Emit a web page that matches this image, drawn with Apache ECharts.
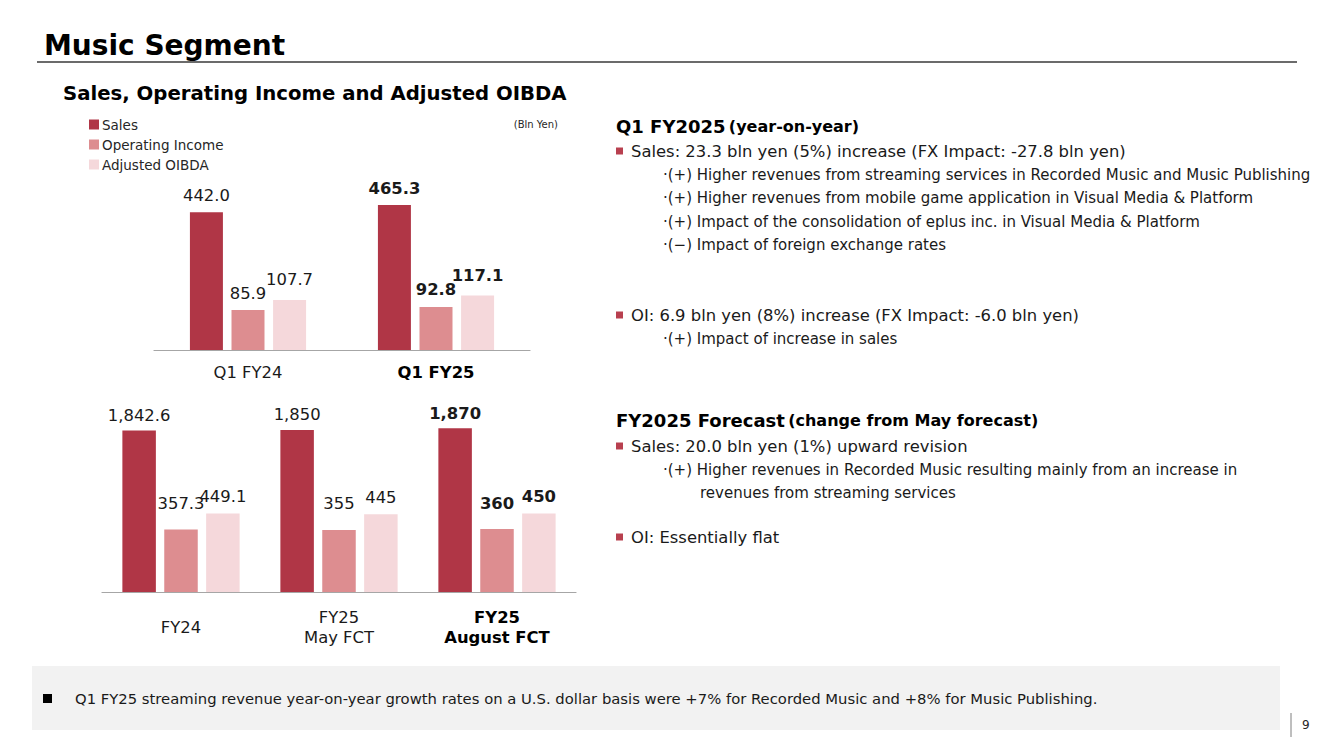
<!DOCTYPE html>
<html>
<head>
<meta charset="utf-8">
<script src="https://cdn.jsdelivr.net/npm/echarts@6/dist/echarts.min.js"></script>
<style>
  html, body { margin: 0; padding: 0; background: #ffffff; }
  #chart { width: 1334px; height: 749px; }
</style>
</head>
<body>
<div id="chart"></div>
<script>
// ---------- data ----------
const seriesNames = ['Sales', 'Operating Income', 'Adjusted OIBDA'];

const quarterCategories = ['Q1 FY24', 'Q1 FY25'];
const quarterSales = [442.0, 465.3];
const quarterOI = [85.9, 92.8];
const quarterOIBDA = [107.7, 117.1];
const quarterBoldIndex = 1;

const yearCategories = ['FY24', 'FY25\nMay FCT', 'FY25\nAugust FCT'];
const yearSales = [1842.6, 1850, 1870];
const yearOI = [357.3, 355, 360];
const yearOIBDA = [449.1, 445, 450];
const yearDecimals = [1, 0, 0];
const yearBoldIndex = 2;

const unitLabel = '(Bln Yen)';

// ---------- styles ----------
const FONT = "'DejaVu Sans', Verdana, sans-serif";
const colors = ['#b03646', '#dd8d90', '#f5d8db'];
const bulletRed = '#b8404f';

function fmt(v, d) {
  return Number(v).toLocaleString('en-US', { minimumFractionDigits: d, maximumFractionDigits: d });
}

function items(values, boldIdx) {
  return values.map((v, i) => ({
    value: v,
    label: { fontWeight: i === boldIdx ? 'bold' : 'normal' }
  }));
}

function catLabelFormatter(boldIdx) {
  return function (v, i) {
    const tag = i === boldIdx ? 'b' : 'n';
    return v.split('\n').map(s => '{' + tag + '|' + s + '}').join('\n');
  };
}

const catRich = {
  n: { fontFamily: FONT, fontSize: 16.4, color: '#1a1a1a', lineHeight: 20 },
  b: { fontFamily: FONT, fontSize: 16.4, color: '#000000', fontWeight: 'bold', lineHeight: 20 }
};

const labelBase = {
  show: true,
  position: 'top',
  distance: 9,
  fontFamily: FONT,
  fontSize: 16.4,
  color: '#1a1a1a'
};

// ---------- right side text ----------
const bodyFont = '16.4px ' + FONT;
const subFont = '15px ' + FONT;
const textLines = [
  { y: 126, x: 616, rich: true, text: '{h|Q1 FY2025} {s|(year-on-year)}' },
  { y: 151, x: 631, bullet: true, text: 'Sales: 23.3 bln yen (5%) increase (FX Impact: -27.8 bln yen)' },
  { y: 175, x: 663, sub: true, text: '·(+) Higher revenues from streaming services in Recorded Music and Music Publishing' },
  { y: 198, x: 663, sub: true, text: '·(+) Higher revenues from mobile game application in Visual Media & Platform' },
  { y: 222, x: 663, sub: true, text: '·(+) Impact of the consolidation of eplus inc. in Visual Media & Platform' },
  { y: 245, x: 663, sub: true, text: '·(\u2212) Impact of foreign exchange rates' },
  { y: 315, x: 631, bullet: true, text: 'OI: 6.9 bln yen (8%) increase (FX Impact: -6.0 bln yen)' },
  { y: 339, x: 663, sub: true, text: '·(+) Impact of increase in sales' },
  { y: 420, x: 616, rich: true, text: '{h|FY2025 Forecast} {s|(change from May forecast)}' },
  { y: 446, x: 631, bullet: true, text: 'Sales: 20.0 bln yen (1%) upward revision' },
  { y: 470, x: 663, sub: true, text: '·(+) Higher revenues in Recorded Music resulting mainly from an increase in' },
  { y: 493, x: 700, sub: true, text: 'revenues from streaming services' },
  { y: 537, x: 631, bullet: true, text: 'OI: Essentially flat' }
];

const graphics = [];
// title
graphics.push({ type: 'text', x: 44, y: 45, style: { text: 'Music Segment', font: 'bold 28px ' + FONT, fill: '#000', verticalAlign: 'middle' } });
graphics.push({ type: 'line', shape: { x1: 37, y1: 62, x2: 1297, y2: 62 }, style: { stroke: '#3a3a3a', lineWidth: 1.5 } });
graphics.push({ type: 'text', x: 63, y: 93, style: { text: 'Sales, Operating Income and Adjusted OIBDA', font: 'bold 19.7px ' + FONT, fill: '#000', verticalAlign: 'middle' } });
graphics.push({ type: 'text', x: 558, y: 124, style: { text: unitLabel, font: '10px ' + FONT, fill: '#262626', align: 'right', verticalAlign: 'middle' } });

textLines.forEach(l => {
  if (l.rich) {
    graphics.push({ type: 'text', x: l.x, y: l.y, style: {
      text: l.text, verticalAlign: 'middle', fill: '#000',
      rich: {
        h: { font: 'bold 18px ' + FONT, fill: '#000' },
        s: { font: 'bold 16px ' + FONT, fill: '#000' }
      }
    } });
  } else {
    graphics.push({ type: 'text', x: l.x, y: l.y, style: { text: l.text, font: l.sub ? subFont : bodyFont, fill: '#1a1a1a', verticalAlign: 'middle' } });
  }
  if (l.bullet) {
    graphics.push({ type: 'rect', shape: { x: 616, y: l.y - 3.5, width: 7, height: 7 }, style: { fill: bulletRed } });
  }
});

// footer
graphics.push({ type: 'rect', shape: { x: 32, y: 666, width: 1248, height: 64 }, style: { fill: '#f2f2f2' } });
graphics.push({ type: 'rect', shape: { x: 43, y: 694, width: 9, height: 9 }, style: { fill: '#000' } });
graphics.push({ type: 'text', x: 75, y: 698, style: { text: 'Q1 FY25 streaming revenue year-on-year growth rates on a U.S. dollar basis were +7% for Recorded Music and +8% for Music Publishing.', font: '14.8px ' + FONT, fill: '#1a1a1a', verticalAlign: 'middle' } });
graphics.push({ type: 'line', shape: { x1: 1291, y1: 713, x2: 1291, y2: 737 }, style: { stroke: '#7f7f7f', lineWidth: 1 } });
graphics.push({ type: 'text', x: 1302, y: 725, style: { text: '9', font: '12px ' + FONT, fill: '#262626', verticalAlign: 'middle' } });

const chart = echarts.init(document.getElementById('chart'), null, { renderer: 'svg' });

const option = {
  animation: false,
  backgroundColor: '#ffffff',
  color: colors,
  legend: {
    data: seriesNames,
    orient: 'vertical',
    left: 89,
    top: 117,
    padding: 0,
    itemWidth: 10,
    itemHeight: 10,
    itemGap: 5,
    icon: 'rect',
    selectedMode: false,
    textStyle: { fontFamily: FONT, fontSize: 13.5, color: '#262626', lineHeight: 15, padding: [0, 0, 0, -2] }
  },
  grid: [
    { left: 154, width: 376, top: 200, height: 150 },
    { left: 102, width: 474, top: 422, height: 170 }
  ],
  xAxis: [
    {
      gridIndex: 0, type: 'category', data: quarterCategories,
      axisLine: { lineStyle: { color: '#a6a6a6', width: 1.2 } },
      axisTick: { show: false },
      axisLabel: { margin: 22, verticalAlign: 'middle', formatter: catLabelFormatter(quarterBoldIndex), rich: catRich }
    },
    {
      gridIndex: 1, type: 'category', data: yearCategories,
      axisLine: { lineStyle: { color: '#a6a6a6', width: 1.2 } },
      axisTick: { show: false },
      axisLabel: { margin: 35, verticalAlign: 'middle', formatter: catLabelFormatter(yearBoldIndex), rich: catRich }
    }
  ],
  yAxis: [
    { gridIndex: 0, type: 'value', min: 0, max: 481.5, show: false },
    { gridIndex: 0, type: 'value', min: 0, max: 323, show: false },
    { gridIndex: 1, type: 'value', min: 0, max: 1940, show: false },
    { gridIndex: 1, type: 'value', min: 0, max: 973, show: false }
  ],
  series: [
    {
      name: seriesNames[0], type: 'bar', xAxisIndex: 0, yAxisIndex: 0, barWidth: 33, barGap: '26%',
      data: items(quarterSales, quarterBoldIndex),
      label: Object.assign({}, labelBase, { formatter: p => fmt(p.value, 1) })
    },
    {
      name: seriesNames[1], type: 'bar', xAxisIndex: 0, yAxisIndex: 1, barWidth: 33, barGap: '26%',
      data: items(quarterOI, quarterBoldIndex),
      label: Object.assign({}, labelBase, { formatter: p => fmt(p.value, 1) })
    },
    {
      name: seriesNames[2], type: 'bar', xAxisIndex: 0, yAxisIndex: 1, barWidth: 33, barGap: '26%',
      data: items(quarterOIBDA, quarterBoldIndex),
      label: Object.assign({}, labelBase, { distance: 12, formatter: p => fmt(p.value, 1) })
    },
    {
      name: seriesNames[0], type: 'bar', xAxisIndex: 1, yAxisIndex: 2, barWidth: 33.5, barGap: '25%',
      data: items(yearSales, yearBoldIndex),
      label: Object.assign({}, labelBase, { distance: 7, formatter: p => fmt(p.value, yearDecimals[p.dataIndex]) })
    },
    {
      name: seriesNames[1], type: 'bar', xAxisIndex: 1, yAxisIndex: 3, barWidth: 33.5, barGap: '25%',
      data: items(yearOI, yearBoldIndex),
      label: Object.assign({}, labelBase, { distance: 18, formatter: p => fmt(p.value, yearDecimals[p.dataIndex]) })
    },
    {
      name: seriesNames[2], type: 'bar', xAxisIndex: 1, yAxisIndex: 3, barWidth: 33.5, barGap: '25%',
      data: items(yearOIBDA, yearBoldIndex),
      label: Object.assign({}, labelBase, { distance: 9, formatter: p => fmt(p.value, yearDecimals[p.dataIndex]) })
    }
  ],
  graphic: graphics
};

chart.setOption(option);
</script>
</body>
</html>
